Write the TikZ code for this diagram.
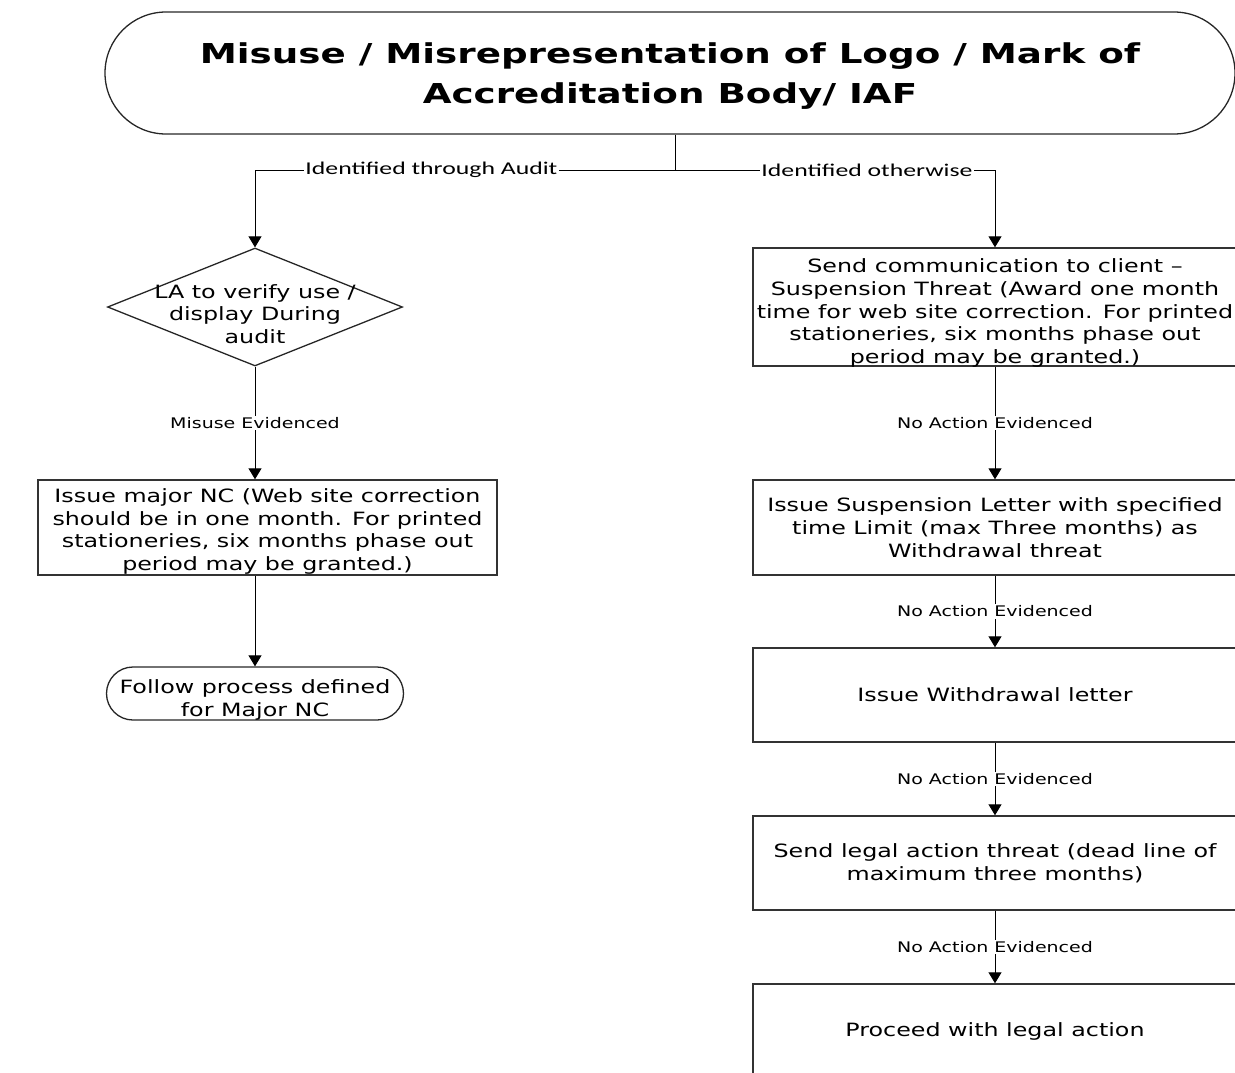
\documentclass[tikz,border=0pt]{standalone}
\usepackage{fontspec}
\usetikzlibrary{arrows.meta,shapes.geometric,shapes.misc}
\newfontfamily\boxfont[FakeStretch=1.3]{DejaVu Sans}
\newfontfamily\headfont[FakeStretch=1.36]{DejaVu Sans}
\newfontfamily\branchfont[FakeStretch=1.43]{Carlito}
\tikzset{
  terminal/.style={draw=black!85,line width=1.3pt,rounded rectangle,inner sep=0pt},
  decision/.style={draw=black!85,line width=1.3pt,diamond,inner sep=0pt,minimum width=295pt,minimum height=118pt},
  boxtext/.style={font=\boxfont\fontsize{18.3}{22.8}\selectfont,align=center,inner sep=0pt},
  process/.style={boxtext,draw=black!80,line width=1.4pt,rectangle,minimum width=484pt},
  headtext/.style={font=\headfont\bfseries\fontsize{27.4}{40}\selectfont,align=center,inner sep=0pt},
  flow/.style={draw=black,line width=1pt,-{Triangle[width=13pt,length=11pt]}},
  evlabel/.style={fill=white,font=\boxfont\fontsize{14.6}{17}\selectfont,inner sep=1.5pt},
  branch/.style={fill=white,font=\branchfont\fontsize{18}{20}\selectfont,inner sep=1.5pt}
}
\begin{document}
\begin{tikzpicture}[x=1pt,y=-1pt]
\useasboundingbox (0,0) rectangle (1235,1072);
\clip (0,0) rectangle (1235,1072);
\node[terminal,minimum width=1130pt,minimum height=122pt] (title) at (670,73) {};
\node[headtext] (titletext) at (670,76) {Misuse / Misrepresentation of Logo / Mark of\\Accreditation Body/ IAF};
\coordinate (split) at (675,170);
\draw[line width=1pt] (title.south -| split) -- (split);
\node[decision] (check) at (255,307) {};
\node[boxtext] (checktext) at (255,314) {LA to verify use /\\display During\\audit};
\node[process,minimum width=459pt,minimum height=95pt,label={[boxtext,yshift=-4pt]center:{Issue major NC (Web site correction\\should be in one month. For printed\\stationeries, six months phase out\\period may be granted.)}}] (majnc) at (267.5,527.5) {};
\node[terminal,minimum width=297pt,minimum height=53pt] (follow) at (255,693.5) {};
\node[boxtext] (followtext) at (255,700) {Follow process defined\\for Major NC};
\node[process,minimum height=118pt,label={[boxtext,yshift=-6pt]center:{Send communication to client –\\Suspension Threat (Award one month\\time for web site correction. For printed\\stationeries, six months phase out\\period may be granted.)}}] (comm) at (995,307) {};
\node[process,minimum height=95pt] (susp) at (995,527.5) {Issue Suspension Letter with specified\\time Limit (max Three months) as\\Withdrawal threat};
\node[process,minimum height=94pt] (withd) at (995,695) {Issue Withdrawal letter};
\node[process,minimum height=94pt] (legal) at (995,863) {Send legal action threat (dead line of\\maximum three months)};
\node[process,minimum height=95pt] (proceed) at (995,1031.5) {Proceed with legal action};
\draw[flow] (split) -| node[branch,pos=0.29]{Identified through Audit} (check.north);
\draw[flow] (split) -| node[branch,pos=0.3]{Identified otherwise} (comm.north);
\draw[flow] (check.south) -- node[evlabel]{Misuse Evidenced} (check.south |- majnc.north);
\draw[flow] (check |- majnc.south) -- (follow.north);
\draw[flow] (comm.south) -- node[evlabel]{No Action Evidenced} (susp.north);
\draw[flow] (susp.south) -- node[evlabel]{No Action Evidenced} (withd.north);
\draw[flow] (withd.south) -- node[evlabel]{No Action Evidenced} (legal.north);
\draw[flow] (legal.south) -- node[evlabel]{No Action Evidenced} (proceed.north);
\end{tikzpicture}
\end{document}
